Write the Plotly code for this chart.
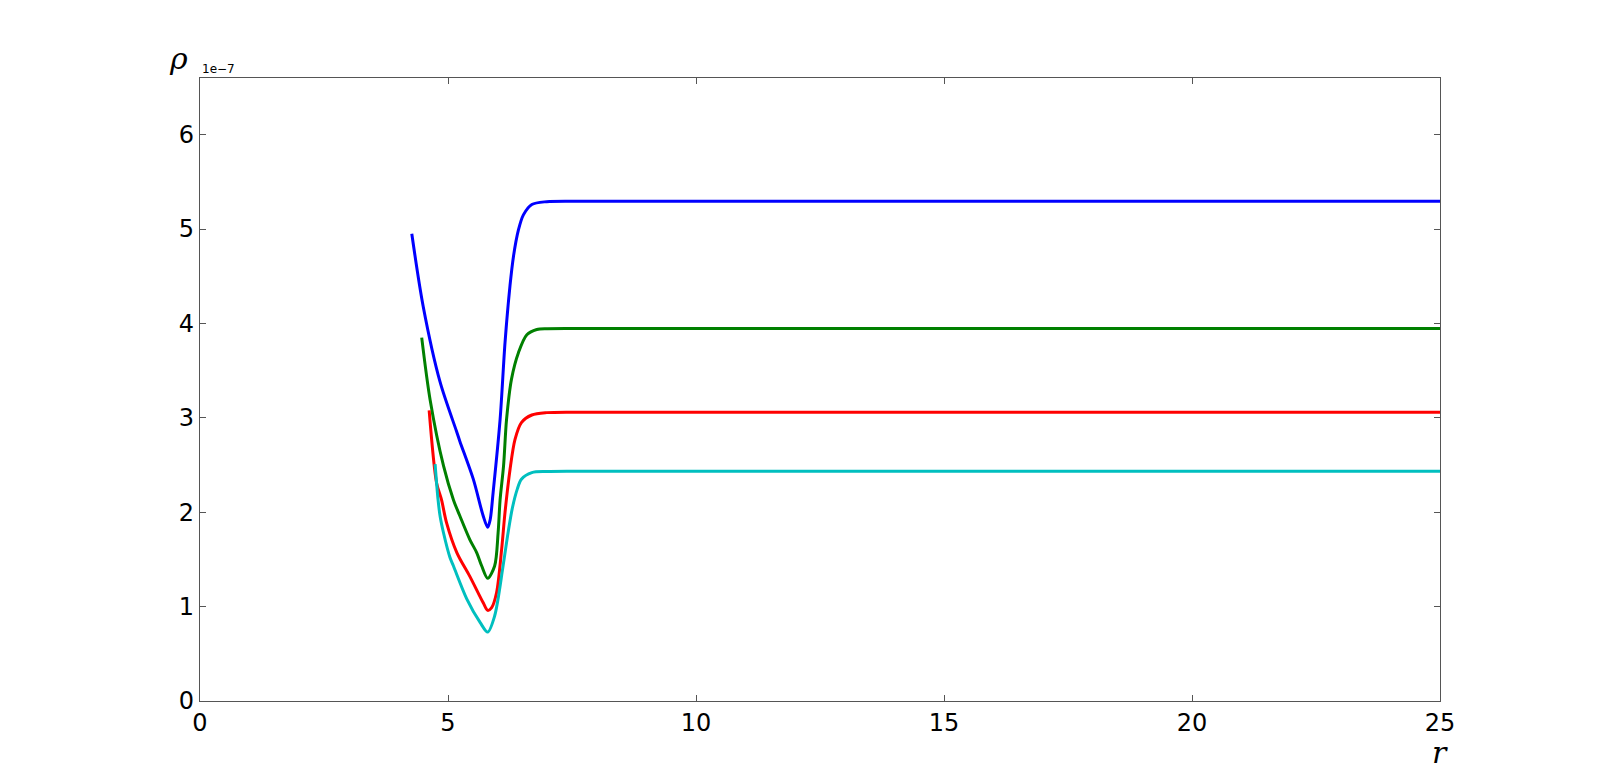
import plotly.graph_objects as go

# data (r, rho in units of 1e-7)
blue_r = [4.27, 4.50, 4.84, 5.17, 5.24, 5.51, 5.71, 5.80, 5.85, 5.91, 6.05, 6.15, 6.25, 6.32, 6.42, 6.52, 6.69, 6.99, 7.5, 8, 10, 15, 20, 25]
blue_rho = [4.95, 4.18, 3.38, 2.86, 2.75, 2.35, 1.96, 1.84, 1.92, 2.21, 2.98, 3.80, 4.40, 4.71, 4.99, 5.15, 5.26, 5.29, 5.295, 5.295, 5.295, 5.295, 5.295, 5.295]

green_r = [4.47, 4.64, 4.91, 5.11, 5.24, 5.44, 5.58, 5.68, 5.80, 5.94, 6.01, 6.05, 6.12, 6.18, 6.28, 6.42, 6.59, 6.79, 7.0, 7.5, 8, 10, 15, 20, 25]
green_rho = [3.85, 3.19, 2.49, 2.13, 1.96, 1.71, 1.57, 1.43, 1.30, 1.43, 1.78, 2.13, 2.49, 2.98, 3.41, 3.69, 3.88, 3.935, 3.944, 3.946, 3.946, 3.946, 3.946, 3.946, 3.946]

red_r = [4.62, 4.77, 4.87, 4.97, 5.18, 5.44, 5.71, 5.80, 5.88, 5.98, 6.08, 6.15, 6.25, 6.35, 6.48, 6.69, 6.99, 7.5, 8, 10, 15, 20, 25]
red_rho = [3.08, 2.31, 2.13, 1.89, 1.57, 1.32, 1.04, 0.96, 0.99, 1.15, 1.60, 2.00, 2.45, 2.77, 2.95, 3.03, 3.055, 3.06, 3.06, 3.06, 3.06, 3.06, 3.06]

cyan_r = [4.74, 4.80, 4.84, 4.91, 5.04, 5.11, 5.38, 5.65, 5.80, 5.94, 6.11, 6.21, 6.30, 6.40, 6.48, 6.69, 6.99, 7.5, 8, 10, 15, 20, 25]
cyan_rho = [2.51, 2.13, 1.96, 1.78, 1.52, 1.43, 1.08, 0.83, 0.73, 0.90, 1.43, 1.78, 2.05, 2.25, 2.35, 2.42, 2.432, 2.435, 2.435, 2.435, 2.435, 2.435, 2.435]

x_ticks = [0, 5, 10, 15, 20, 25]
y_ticks = [0, 1, 2, 3, 4, 5, 6]

series = [
    (blue_r, blue_rho, "#0000ff"),
    (green_r, green_rho, "#008000"),
    (red_r, red_rho, "#ff0000"),
    (cyan_r, cyan_rho, "#00bfbf"),
]

fig = go.Figure()
for xs, ys, col in series:
    fig.add_trace(go.Scatter(x=xs, y=ys, mode="lines",
                             line=dict(color=col, width=3, shape="spline", smoothing=0.85),
                             showlegend=False, hoverinfo="skip"))

axis_common = dict(
    showgrid=False, zeroline=False, showline=True, linecolor="#555555", linewidth=1.3,
    mirror="allticks", ticks="inside", ticklen=6, tickcolor="#555555", tickwidth=1,
    tickfont=dict(family="DejaVu Sans", size=24, color="black"),
)

fig.update_layout(
    width=1600, height=780,
    margin=dict(l=192, r=168, t=70, b=87),
    paper_bgcolor="white", plot_bgcolor="white",
    xaxis=dict(range=[0, 25], tickvals=x_ticks, ticktext=[str(v) for v in x_ticks], **axis_common),
    yaxis=dict(range=[0, 6.6], tickvals=y_ticks, ticktext=[str(v) for v in y_ticks], **axis_common),
    annotations=[
        dict(text="<i>ρ</i>", xref="paper", yref="paper", x=-0.017, y=1.0, xanchor="center", yanchor="bottom",
             showarrow=False, font=dict(family="DejaVu Serif", size=30, color="black")),
        dict(text="1e−7", xref="paper", yref="paper", x=0.0, y=1.0, xanchor="left", yanchor="bottom",
             showarrow=False, yshift=0, font=dict(family="DejaVu Sans", size=12, color="black")),
        dict(text="<i>r</i>", xref="paper", yref="paper", x=1.0, y=0, xanchor="center", yanchor="top",
             showarrow=False, yshift=-32, font=dict(family="DejaVu Serif", size=30, color="black")),
    ],
)

fig.write_html("out.html")
